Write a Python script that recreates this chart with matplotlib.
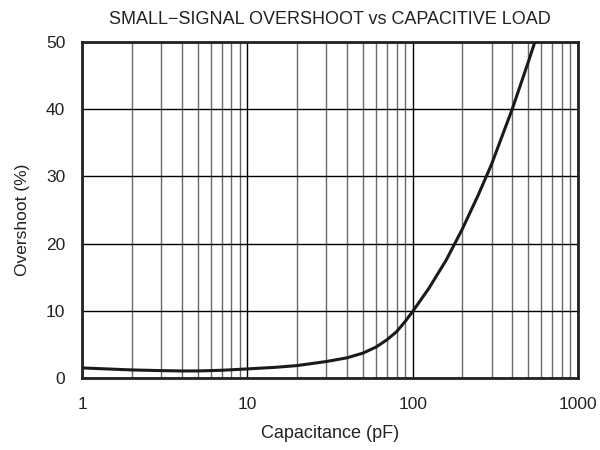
import matplotlib
matplotlib.use('Agg')
import matplotlib.pyplot as plt
from matplotlib.ticker import FixedLocator, NullFormatter

# capacitance (pF) vs overshoot (%)
cap = [1, 2, 3, 4, 5, 7, 10, 15, 20, 30, 40, 50, 60, 70, 80, 90, 100,
       125, 160, 200, 250, 300, 400, 500, 548]
overshoot = [1.5, 1.2, 1.1, 1.05, 1.05, 1.15, 1.35, 1.6, 1.85, 2.45, 3.0, 3.7, 4.6, 5.7, 6.9, 8.4, 9.9,
             13.3, 17.6, 22.2, 27.3, 31.8, 40.0, 47.0, 50.0]

x_ticks = [1, 10, 100, 1000]
x_labels = ['1', '10', '100', '1000']
y_ticks = [0, 10, 20, 30, 40, 50]

plt.rcParams['font.family'] = ['Liberation Sans', 'DejaVu Sans']

fig = plt.figure(figsize=(6, 4.5), dpi=100)
ax = fig.add_axes([0.1367, 0.16, 0.8266, 0.7466])
ax.set_xscale('log')
ax.set_xlim(1, 1000)
ax.set_ylim(0, 50)

# grid: minor decades in gray, majors in black
minors = [m * 10 ** d for d in range(3) for m in range(2, 10)]
ax.xaxis.set_minor_locator(FixedLocator(minors))
ax.xaxis.set_minor_formatter(NullFormatter())
ax.grid(which='minor', axis='x', color='#6a6a6a', linewidth=1.0)
ax.grid(which='major', axis='both', color='black', linewidth=1.0)

ax.plot(cap, overshoot, color='#1a1a1a', linewidth=2.2, zorder=5,
        solid_joinstyle='round', solid_capstyle='round')

ax.set_xticks(x_ticks)
ax.set_xticklabels(x_labels)
ax.set_yticks(y_ticks)
ax.tick_params(which='both', length=0, labelsize=12.5, colors='#222222')
ax.tick_params(axis='x', pad=14)
ax.tick_params(axis='y', pad=12)

for s in ax.spines.values():
    s.set_linewidth(2.0)
    s.set_color('#222222')

ax.set_title('SMALL\u2212SIGNAL OVERSHOOT vs CAPACITIVE LOAD', fontsize=13, color='#222222', pad=13)
ax.set_xlabel('Capacitance (pF)', fontsize=13, color='#222222')
ax.set_ylabel('Overshoot (%)', fontsize=12.5, color='#222222')
ax.xaxis.set_label_coords(0.5, -0.14)
ax.yaxis.set_label_coords(-0.105, 0.47)

fig.savefig('out.png', dpi=100)
